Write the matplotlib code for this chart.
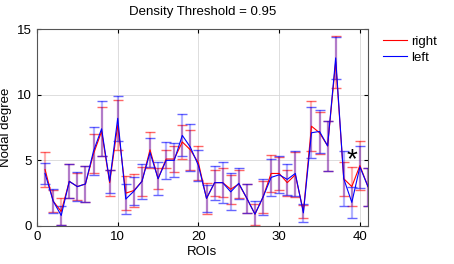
import matplotlib

matplotlib.use("Agg")
import matplotlib.pyplot as plt

plt.rcParams["font.family"] = ["Liberation Sans", "DejaVu Sans"]

rois = list(range(1, 42))

right_mean = [4.3, 1.9, 1.1, 3.4, 3.0, 3.2, 5.5, 7.2, 3.3, 7.7,
              2.5, 2.7, 3.4, 5.8, 3.6, 5.1, 5.1, 6.4, 5.8, 4.8,
              2.1, 3.3, 3.3, 2.8, 3.2, 2.1, 0.9, 2.2, 4.0, 4.0,
              3.3, 3.9, 1.1, 7.6, 7.1, 6.1, 12.5, 3.6, 3.0, 4.6, 3.0]
right_err = [1.3, 0.85, 1.0, 1.3, 1.0, 1.4, 1.5, 1.9, 1.0, 1.9,
             1.3, 1.25, 1.1, 1.35, 0.8, 0.7, 1.0, 1.3, 1.5, 1.3,
             1.15, 1.0, 1.1, 1.1, 1.05, 1.1, 0.8, 1.2, 1.4, 1.25,
             1.0, 1.7, 0.5, 1.9, 1.6, 1.9, 2.0, 1.3, 1.5, 1.85, 1.45]

left_mean = [4.0, 1.9, 0.8, 3.4, 3.0, 3.2, 5.7, 7.4, 3.4, 8.2,
             2.05, 2.65, 3.4, 5.6, 3.6, 5.0, 5.0, 6.9, 6.0, 4.6,
             2.1, 3.3, 3.3, 2.6, 3.25, 2.1, 0.9, 2.2, 3.7, 3.9,
             3.55, 4.0, 1.0, 7.1, 7.2, 6.1, 12.8, 3.6, 1.8, 4.5, 3.0]
left_err = [0.8, 0.9, 0.7, 1.3, 1.1, 1.4, 1.85, 2.1, 0.85, 1.7,
            1.15, 1.05, 1.35, 1.1, 1.25, 1.4, 1.3, 1.6, 1.8, 1.2,
            1.05, 1.3, 1.55, 1.4, 1.2, 1.1, 1.0, 1.4, 1.4, 1.4,
            1.2, 1.7, 0.7, 1.95, 1.65, 1.9, 1.6, 2.1, 1.2, 1.6, 1.45]

star_roi = 39
star_y = 5.0

fig = plt.figure(figsize=(4.54, 2.64), dpi=100)
ax = fig.add_axes([0.0815, 0.144, 0.729, 0.746])

for mean, err, color, label in [
    (right_mean, right_err, "#ff0000", "right"),
    (left_mean, left_err, "#0000ff", "left"),
]:
    _, caps, bars = ax.errorbar(
        rois, mean, yerr=err, color=color, lw=0.8, label=label,
        ecolor=color, elinewidth=1.6, capsize=3.3, capthick=1,
    )
    for b in bars:
        b.set_alpha(0.3)
    for c in caps:
        c.set_alpha(0.6)

ax.text(star_roi, star_y, "*", fontsize=20, ha="center", va="center")

ax.set_xlim(0, 41)
ax.set_ylim(0, 15)
ax.set_xticks([0, 10, 20, 30, 40])
ax.set_yticks([0, 5, 10, 15])
ax.tick_params(direction="in", top=True, right=True, labelsize=9.5, length=3)
ax.grid(True, color="#d8d8d8", lw=0.6)
ax.set_axisbelow(True)
for s in ax.spines.values():
    s.set_color("#555555")
    s.set_linewidth(0.8)

ax.set_title("Density Threshold = 0.95", fontsize=9.5, pad=10)
ax.set_xlabel("ROIs", fontsize=9.5, labelpad=2)
ax.set_ylabel("Nodal degree", fontsize=9.5, labelpad=4)

handles = [plt.Line2D([], [], color="#ff0000", lw=0.8),
           plt.Line2D([], [], color="#0000ff", lw=0.8)]
fig.legend(handles, ["right", "left"], loc="upper left",
           bbox_to_anchor=(0.838, 0.875), frameon=False, fontsize=9.5,
           handlelength=1.8, handletextpad=0.3, labelspacing=0.3,
           borderaxespad=0, borderpad=0.2)

fig.savefig("out.png", dpi=100)
